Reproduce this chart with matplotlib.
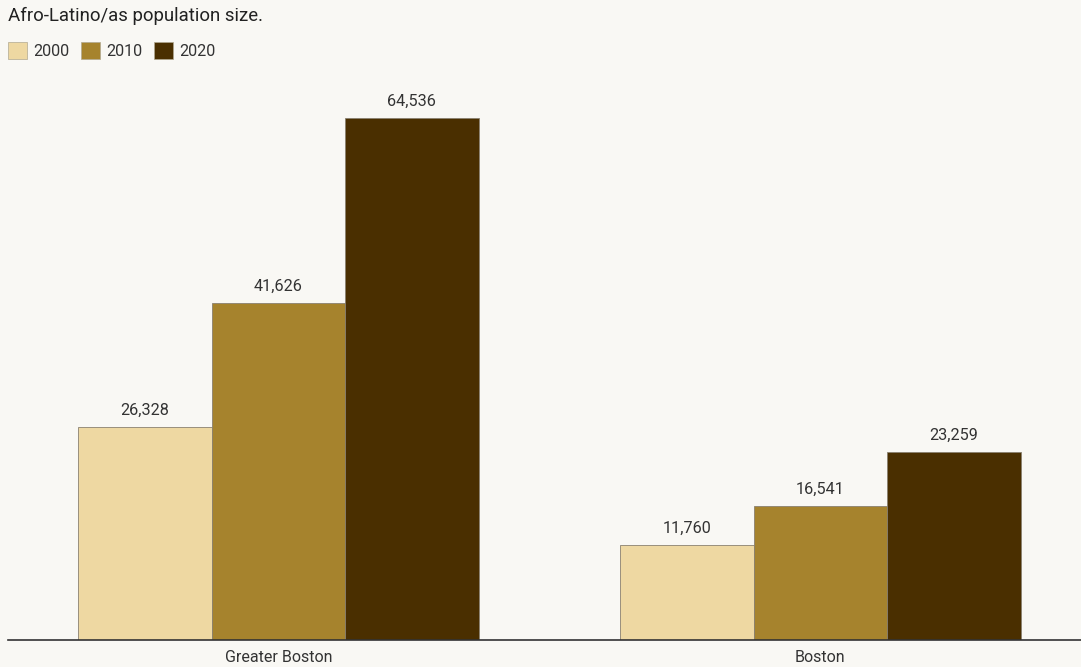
import numpy as np
import matplotlib
matplotlib.use("Agg")
import matplotlib.pyplot as plt
from matplotlib.patches import Patch

plt.rcParams['font.family'] = ['Roboto', 'DejaVu Sans']

regions = ["Greater Boston", "Boston"]
years = ["2000", "2010", "2020"]
pop_2000 = [26328, 11760]
pop_2010 = [41626, 16541]
pop_2020 = [64536, 23259]
colors = ["#eed8a2", "#a6832d", "#4a2f00"]

bg = "#f9f8f4"
text_col = "#333333"

fig = plt.figure(figsize=(10.81, 6.67), dpi=100, facecolor=bg)
ax = fig.add_axes([8 / 1081, 27 / 667, 1 - 8 / 1081, (640 - 80) / 667])
ax.set_facecolor(bg)

x = np.arange(len(regions))
w = 0.2463
series = [pop_2000, pop_2010, pop_2020]
for i, vals in enumerate(series):
    bars = ax.bar(x + (i - 1) * w, vals, width=w, color=colors[i],
                  edgecolor="#8a8170", linewidth=0.6)
    for b, v in zip(bars, vals):
        ax.annotate(f"{v:,}", (b.get_x() + b.get_width() / 2, v),
                    xytext=(0, 6.5), textcoords="offset points",
                    ha="center", va="bottom", fontsize=11.7, color=text_col)

ax.set_xlim(-0.499, 1.481)
ax.set_ylim(0, 69230)
ax.set_xticks(x)
ax.set_xticklabels(regions, fontsize=11.5, color=text_col)
ax.tick_params(axis="x", length=0, pad=7)
ax.set_yticks([])
for s in ["top", "right", "left"]:
    ax.spines[s].set_visible(False)
ax.spines["bottom"].set_color("#333333")
ax.spines["bottom"].set_linewidth(1.2)

fig.text(8 / 1081, 1 - 16 / 667, "Afro-Latino/as population size.",
         fontsize=13.4, color="#222222", ha="left", va="center")

handles = [Patch(facecolor=c, edgecolor="#b0a890", linewidth=0.5) for c in colors]
fig.legend(handles, years, loc="upper left", bbox_to_anchor=(8 / 1081, 1 - 42 / 667),
           ncol=3, frameon=False, fontsize=11.6, handlelength=1.15, handleheight=1.25,
           handletextpad=0.4, columnspacing=0.75, labelcolor=text_col,
           borderpad=0, borderaxespad=0)

fig.savefig("out.png", dpi=100, facecolor=bg)
